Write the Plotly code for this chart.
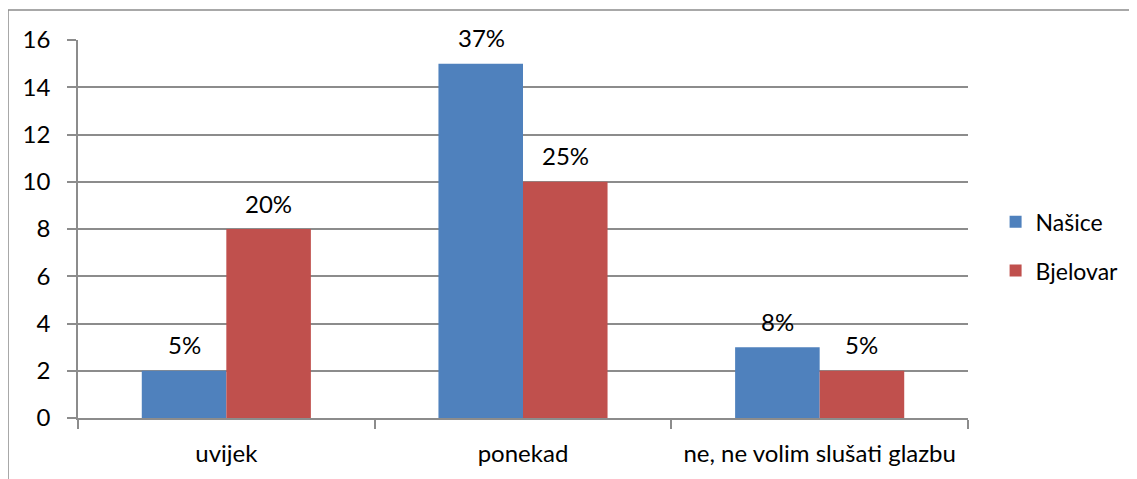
import plotly.graph_objects as go

categories = ["uvijek", "ponekad", "ne, ne volim slušati glazbu"]
nasice = [2, 15, 3]
bjelovar = [8, 10, 2]
nasice_pct = ["5%", "37%", "8%"]
bjelovar_pct = ["20%", "25%", "5%"]
y_ticks = [0, 2, 4, 6, 8, 10, 12, 14, 16]

FONT = "Lato"
FS = 24
GRID = "#8c8c8c"

fig = go.Figure()
fig.add_trace(go.Bar(name="Našice", x=categories, y=nasice, marker_color="#4F81BD",
                     marker_line_width=0, legendgroup="a"))
fig.add_trace(go.Bar(name="Bjelovar", x=categories, y=bjelovar, marker_color="#C0504D",
                     marker_line_width=0, legendgroup="b"))

ann = []
for i, c in enumerate(categories):
    ann.append(dict(x=c, y=nasice[i], text=nasice_pct[i], xref="x", yref="y",
                    xshift=-42, yshift=26, showarrow=False,
                    font=dict(family=FONT, size=FS, color="#000")))
    ann.append(dict(x=c, y=bjelovar[i], text=bjelovar_pct[i], xref="x", yref="y",
                    xshift=42, yshift=26, showarrow=False,
                    font=dict(family=FONT, size=FS, color="#000")))

fig.update_layout(
    width=1129, height=471,
    margin=dict(l=70, r=169, t=32, b=61, autoexpand=False),
    paper_bgcolor="white", plot_bgcolor="white",
    barmode="group", bargap=0.43, bargroupgap=0,
    font=dict(family=FONT, size=FS, color="#000"),
    annotations=ann,
    legend=dict(x=1.031, y=0.576, xanchor="left", yanchor="top",
                font=dict(family=FONT, size=23), tracegroupgap=16,
                traceorder="grouped", itemwidth=30),
    shapes=[dict(type="rect", xref="paper", yref="paper",
                 x0=-70 / 890, x1=1.4, y0=-0.4, y1=(410 - 2) / 378,
                 line=dict(color=GRID, width=1.5), layer="below")],
)
fig.update_yaxes(range=[0, 16], tickvals=y_ticks, showgrid=True, gridcolor=GRID,
                 gridwidth=1.5, showline=True, linecolor=GRID, linewidth=1.5,
                 ticks="outside", ticklen=9, tickcolor=GRID, tickwidth=1.5,
                 zeroline=False, ticklabelstandoff=12)
fig.update_xaxes(showline=True, linecolor=GRID, linewidth=1.5, ticks="outside",
                 tickson="boundaries", ticklen=9, tickcolor=GRID, tickwidth=1.5,
                 showgrid=False, ticklabelstandoff=13)

fig.write_html("out.html")
